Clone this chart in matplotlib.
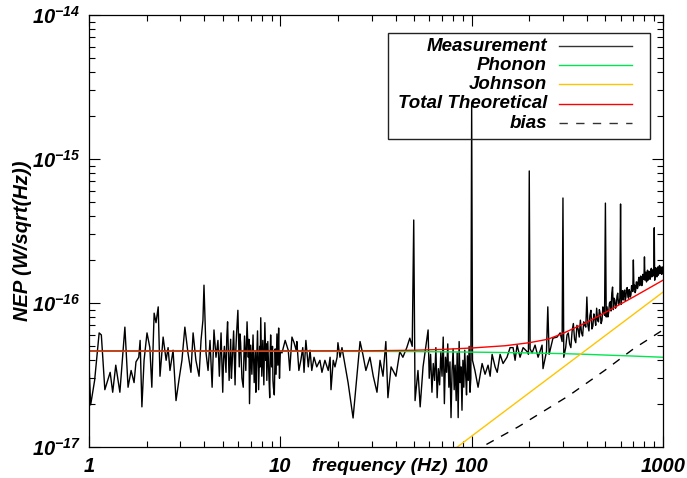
import numpy as np
import matplotlib
matplotlib.use("Agg")
import matplotlib.pyplot as plt
from matplotlib.patches import Rectangle

# fonts: IDL-like bold italic sans
plt.rcParams['font.family'] = ['Liberation Sans', 'DejaVu Sans']
plt.rcParams['font.weight'] = 'bold'
plt.rcParams['font.style'] = 'italic'
plt.rcParams['axes.labelweight'] = 'bold'
plt.rcParams['mathtext.fontset'] = 'custom'
plt.rcParams['mathtext.rm'] = 'Liberation Sans:bold:italic'
plt.rcParams['mathtext.it'] = 'Liberation Sans:bold:italic'
plt.rcParams['mathtext.bf'] = 'Liberation Sans:bold:italic'

unit = 1e-17  # values below are in units of 1e-17 W/sqrt(Hz)

freq = [
    1.00, 1.02, 1.07, 1.13, 1.16, 1.21, 1.29, 1.33, 1.38, 1.45,
    1.54, 1.60, 1.66, 1.72, 1.76, 1.82, 1.85, 1.89, 1.94, 2.01,
    2.08, 2.13, 2.19, 2.24, 2.30, 2.35, 2.44, 2.53, 2.59, 2.65,
    2.75, 2.85, 2.95, 3.06, 3.17, 3.29, 3.41, 3.50, 3.62, 3.76,
    3.85, 3.94, 3.99, 4.09, 4.19, 4.29, 4.40, 4.50, 4.61, 4.72,
    4.8, 4.85, 4.9, 5.0, 5.05, 5.1, 5.2, 5.25, 5.3, 5.4, 5.5, 5.55, 5.6, 5.7,
    5.8, 5.85, 5.9, 6.0, 6.1, 6.15, 6.2, 6.3, 6.4, 6.45, 6.5, 6.6, 6.7,
    6.8, 6.85, 6.9, 7.0, 7.1, 7.15, 7.2, 7.3, 7.4, 7.45, 7.5, 7.6, 7.7,
    7.8, 7.85, 7.9, 8.0, 8.1, 8.15, 8.2, 8.3, 8.4, 8.45, 8.5, 8.6, 8.7,
    8.8, 8.85, 8.9, 9.0, 9.1, 9.15, 9.2, 9.3, 9.4, 9.45, 9.5, 9.6, 9.7,
    9.8, 9.85, 9.9, 10.0,
    10.2, 10.6, 11.0, 11.2, 11.5, 11.8, 12.1, 12.2, 12.5, 12.8,
    13.1, 13.3, 13.6, 14.0, 14.3, 14.6, 15.0, 15.5, 16.1, 16.5,
    17.1, 17.8, 18.2, 18.4, 18.9, 19.3, 19.8, 20.0, 20.5, 21.0,
    22.6, 24.0, 26.1, 27.0, 28.0, 29.4, 30.6, 32.0, 33.2, 34.4,
    35.6, 36.5, 37.9, 38.8, 40.2, 42.1, 43.7, 45.8, 47.5, 48.9,
    49.8, 50.6, 52.4, 53.8, 55.7, 59.2,
    60, 61, 62, 63, 64, 65, 66, 67, 68, 69,
    70, 71, 72, 73, 74, 75, 76, 77, 78, 79,
    80, 81, 82, 83, 84, 85, 86, 87, 88, 89,
    90, 91, 92, 93, 94, 95, 96, 97, 98, 99,
    100, 101, 104, 108, 113.4, 117.5, 121.8, 124.9, 127.9, 132.6,
    136, 140.8, 145.9, 153, 158.8, 164.6, 168.6, 172.8, 179, 185.7,
    194.8, 198, 200, 202, 206.9, 214.5, 222.4, 233.3, 236, 246,
    250, 254, 257, 266, 279.5, 290, 297, 300, 303,
    310, 315, 320, 325, 330, 335, 340, 345, 350, 355, 360, 365, 370, 375,
    380, 385, 390, 395, 400, 405, 410, 415, 420, 425, 430, 435, 440, 445,
    450, 455, 460, 465, 470, 475, 480, 485, 490, 495, 500, 505, 510, 515,
    520, 525, 530, 535, 540, 545, 550, 555, 560, 565, 570, 575, 580, 585,
    590, 595, 600, 605, 610, 615, 620, 625, 630, 635, 640, 645, 650, 655,
    660, 665, 670, 675, 680, 685, 690, 695, 700, 705, 710, 715, 720, 725,
    730, 735, 740, 745, 750, 755, 760, 765, 770, 775, 780, 785, 790, 795,
    800, 805, 810, 815, 820, 825, 830, 835, 840, 845, 850, 855, 860, 865,
    870, 875, 880, 885, 890, 895, 900, 905, 910, 915, 920, 925, 930, 935,
    940, 945, 950, 955, 960, 965, 970, 975, 980, 985, 990, 995, 1000,
]
nep = [
    3.8, 1.96, 2.9, 6.2, 6.0, 2.5, 3.3, 2.4, 3.7, 2.4,
    6.8, 2.6, 3.4, 2.8, 3.9, 4.2, 5.5, 1.9, 4.0, 6.2,
    4.9, 2.6, 8.5, 7.3, 9.4, 3.1, 5.8, 4.0, 4.9, 3.4,
    4.7, 2.1, 2.9, 4.0, 6.8, 4.5, 3.3, 6.2, 4.0, 3.1,
    5.5, 7.6, 13.3, 4.5, 3.4, 5.5, 2.6, 6.5, 4.2, 5.5,
    3.1, 4.4, 6.2, 2.4, 4.1, 5.0, 3.3, 5.8, 7.4, 2.9, 5.6, 3.0, 3.8, 6.4,
    2.7, 4.6, 6.0, 8.9, 3.6, 6.1, 5.3, 3.0, 2.6, 4.2, 5.9, 3.4, 7.4,
    4.2, 5.6, 2.0, 5.1, 3.2, 4.4, 6.0, 2.8, 4.6, 2.4, 3.5, 6.4, 2.5,
    5.0, 3.6, 7.9, 3.1, 5.5, 3.9, 2.7, 7.3, 4.0, 5.2, 2.9, 5.4, 3.3,
    2.2, 4.5, 6.0, 3.6, 5.0, 2.9, 2.6, 2.3, 4.8, 3.9, 3.2, 6.1, 3.7,
    6.7, 4.2, 3.0, 4.6,
    4.5, 5.5, 4.7, 3.4, 5.8, 5.3, 4.7, 5.4, 3.4, 4.0,
    4.9, 3.3, 5.5, 3.6, 4.7, 3.4, 4.2, 3.6, 4.0, 3.3,
    4.0, 3.4, 4.2, 2.5, 4.0, 3.6, 4.2, 5.3, 4.2, 4.9,
    2.8, 1.59, 5.4, 4.4, 3.4, 4.2, 3.1, 2.4, 4.0, 3.1,
    5.4, 2.2, 3.6, 3.4, 3.1, 4.6, 4.2, 4.9, 5.7, 5.0,
    37.7, 2.1, 3.4, 1.9, 3.6, 6.5,
    3.0, 4.4, 2.4, 3.8, 2.9, 4.9, 2.2, 3.5, 2.7, 4.6,
    3.1, 5.8, 2.0, 4.2, 3.3, 5.2, 2.6, 3.9, 1.6, 3.4,
    4.8, 2.5, 3.7, 2.1, 4.5, 1.6, 5.4, 2.8, 3.6, 1.8,
    4.0, 2.6, 4.7, 3.2, 2.3, 4.3, 2.9, 5.0, 2.4, 3.0,
    240.0, 4.0, 3.4, 2.6, 3.8, 3.2, 3.7, 3.1, 4.4, 3.6,
    3.3, 4.4, 3.8, 4.2, 4.9, 4.9, 4.0, 5.1, 4.2, 4.9,
    4.6, 4.4, 82.6, 4.8, 4.5, 5.1, 4.2, 5.1, 3.5, 4.6,
    9.4, 4.4, 4.7, 5.7, 5.8, 6.2, 5.4, 53.6, 4.2,
    4.9, 6.0, 6.2, 5.2, 4.9, 6.4, 7.2, 5.6, 5.3, 7.0, 6.6, 5.8, 7.6, 6.2,
    5.9, 7.4, 7.0, 6.8, 11.0, 7.0, 6.4, 8.2, 8.9, 6.6, 6.9, 8.4, 7.8, 7.0,
    9.2, 7.6, 7.4, 9.0, 8.4, 7.2, 7.6, 9.4, 9.0, 8.2, 49.4, 8.0, 9.4, 8.0,
    8.6, 10.0, 10.2, 8.8, 11.7, 12.9, 9.0, 10.8, 10.5, 9.2, 9.6, 11.2, 11.7, 9.8,
    10.0, 10.8, 48.7, 9.8, 11.2, 12.2, 10.5, 11.6, 12.3, 10.4, 11.0, 12.6, 12.8, 11.2,
    10.8, 12.4, 12.0, 11.0, 11.4, 13.2, 13.0, 12.0, 19.9, 12.4, 13.3, 11.8, 12.2, 14.0,
    14.0, 12.6, 13.0, 14.6, 15.1, 13.2, 13.4, 15.4, 14.8, 13.2, 13.6, 15.8, 15.6, 14.6,
    20.9, 14.4, 15.2, 16.4, 14.0, 15.0, 16.9, 14.4, 14.8, 16.6, 16.2, 14.6, 15.0, 17.2,
    17.4, 15.2, 15.6, 17.0, 16.4, 15.4, 33.3, 14.4, 16.0, 17.6, 17.2, 15.4, 15.2, 17.4,
    17.8, 15.6, 16.0, 18.0, 18.2, 16.0, 16.4, 17.8, 17.6, 15.8, 16.1, 17.8, 17.2,
]

# theoretical curves
theory_freq = [1, 10, 30, 50, 70, 100, 150, 200, 250, 300, 400, 500, 700, 1000]
phonon = [4.62, 4.62, 4.61, 4.60, 4.58, 4.56, 4.53, 4.50, 4.47, 4.45, 4.40, 4.35, 4.28, 4.20]
total = [4.65, 4.65, 4.66, 4.70, 4.76, 4.87, 5.05, 5.3, 5.6, 6.15, 7.35, 8.6, 11.0, 14.4]
johnson_freq = [80, 100, 200, 300, 500, 700, 1000]
johnson = [0.95, 1.19, 2.38, 3.57, 5.95, 8.33, 11.9]
bias_freq = [100, 113, 175, 320, 500, 700, 1000]
bias = [0.92, 1.0, 1.38, 2.26, 3.43, 4.8, 6.5]

labels = ['Measurement', 'Phonon', 'Johnson', 'Total Theoretical', 'bias']
xticks = [1, 10, 100, 1000]
xticklabels = ['1', '10', '100', '1000']
yticks = [1e-17, 1e-16, 1e-15, 1e-14]
yticklabels = ['$10^{-17}$', '$10^{-16}$', '$10^{-15}$', '$10^{-14}$']

green = '#00e64d'
yellow = '#ffc400'
red = '#ff0000'

fig = plt.figure(figsize=(6.87, 4.78), dpi=100)
ax = fig.add_axes([89 / 687, 31 / 478, 574 / 687, 432 / 478])

ax.plot(freq, np.array(nep) * unit, color='black', lw=1.0)
ax.plot(theory_freq, np.array(phonon) * unit, color=green, lw=1.0)
ax.plot(johnson_freq, np.array(johnson) * unit, color=yellow, lw=1.0)
ax.plot(theory_freq, np.array(total) * unit, color=red, lw=1.0)
ax.plot(bias_freq, np.array(bias) * unit, color='black', lw=1.0, dashes=(6, 6))

ax.set_xscale('log')
ax.set_yscale('log')
ax.set_xlim(1, 1000)
ax.set_ylim(1e-17, 1e-14)
ax.set_xticks(xticks)
ax.set_xticklabels(xticklabels)
ax.set_yticks(yticks)
ax.set_yticklabels(yticklabels)

ax.tick_params(which='both', direction='in', top=True, right=True, width=0.8,
               labelsize=14.5)
ax.tick_params(which='major', length=8)
ax.tick_params(which='minor', length=4.3)
ax.tick_params(axis='x', pad=7)
ax.tick_params(axis='y', pad=6)
for sp in ax.spines.values():
    sp.set_linewidth(0.9)

ax.set_xlabel('frequency (Hz)', fontsize=14, fontweight='bold')
ax.xaxis.set_label_coords(0.507, -0.025)
ax.set_ylabel('NEP (W/sqrt(Hz))', fontsize=14.5, fontweight='bold')
ax.yaxis.set_label_coords(-0.1, 0.477)

# IDL style legend: labels right aligned, line sample on the right
ax.add_patch(Rectangle((0.521, 0.713), 0.456, 0.245, transform=ax.transAxes,
                       fill=False, lw=1.0, edgecolor='#222222', zorder=5))
rows = [0.928, 0.884, 0.840, 0.794, 0.750]
styles = [dict(color='#333333'), dict(color=green), dict(color=yellow),
          dict(color=red), dict(color='#333333', dashes=(6, 6))]
for lab, yy, st in zip(labels, rows, styles):
    ax.text(0.798, yy, lab, transform=ax.transAxes, ha='right', va='center',
            fontsize=13.5, zorder=6)
    ax.plot([0.819, 0.946], [yy, yy], transform=ax.transAxes, lw=1.0, zorder=6, **st)

fig.savefig('out.png', dpi=100)
